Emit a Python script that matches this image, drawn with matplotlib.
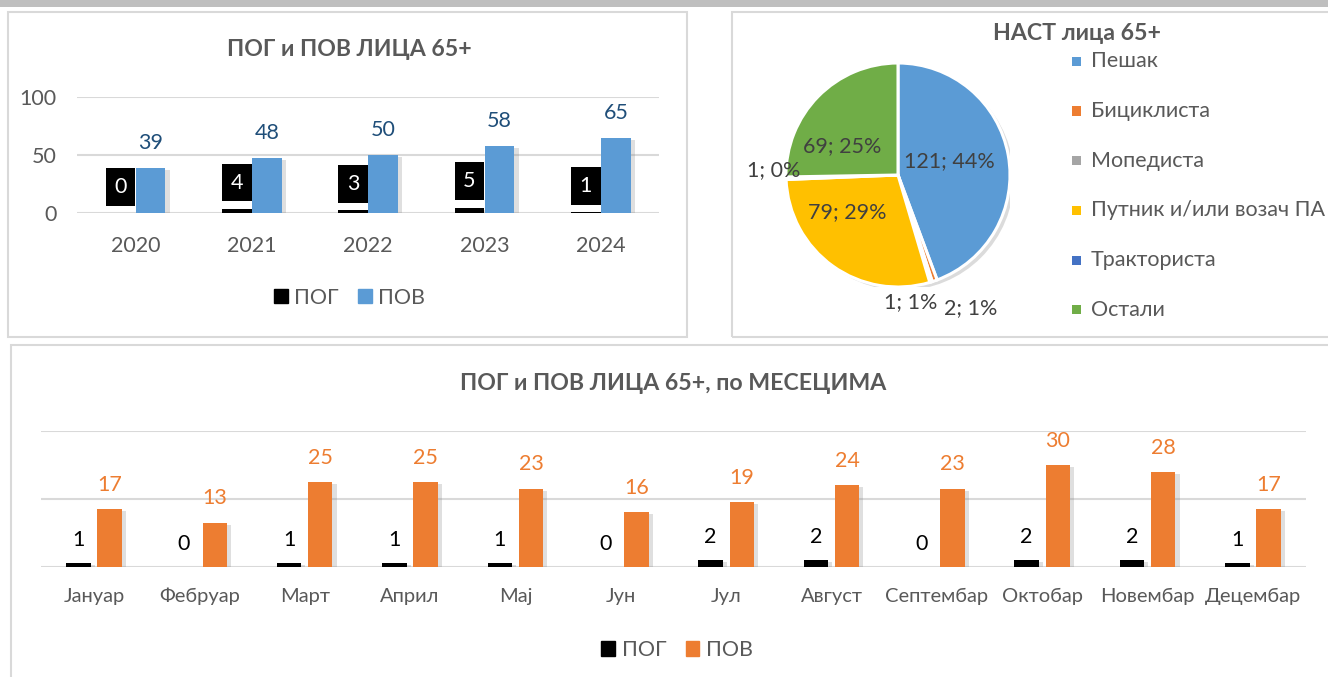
import numpy as np
import matplotlib
matplotlib.use("Agg")
import matplotlib.pyplot as plt
from matplotlib.patches import Rectangle, Patch, Circle
import matplotlib.patheffects as pe

plt.rcParams['font.family'] = ['Lato', 'Open Sans', 'DejaVu Sans']

# ---------------- data ----------------
years = ['2020', '2021', '2022', '2023', '2024']
pog_years = [0, 4, 3, 5, 1]
pov_years = [39, 48, 50, 58, 65]

pie_title = 'НАСТ лица 65+'
pie_labels = ['Пешак', 'Бициклиста', 'Мопедиста', 'Путник и/или возач ПА', 'Тракториста', 'Остали']
pie_values = [121, 2, 1, 79, 1, 69]
pie_pct = [44, 1, 1, 29, 0, 25]

months = ['Јануар', 'Фебруар', 'Март', 'Април', 'Мај', 'Јун', 'Јул', 'Август',
          'Септембар', 'Октобар', 'Новембар', 'Децембар']
pog_months = [1, 0, 1, 1, 1, 0, 2, 2, 0, 2, 2, 1]
pov_months = [17, 13, 25, 25, 23, 16, 19, 24, 23, 30, 28, 17]

# ---------------- style ----------------
W, H = 1328, 677
GRAY_TXT = '#595959'
GRID = '#d9d9d9'
BLUE = '#5B9BD5'
ORANGE = '#ED7D31'
pie_colors = ['#5B9BD5', '#ED7D31', '#A5A5A5', '#FFC000', '#4472C4', '#70AD47']

fig = plt.figure(figsize=(W / 100, H / 100), dpi=100)
fig.patch.set_facecolor('white')


def px_axes(l, t, r, b):
    return fig.add_axes([l / W, 1 - b / H, (r - l) / W, (b - t) / H])


def fx(x):
    return x / W


def fy(y):
    return 1 - y / H


# background frames
fig.add_artist(Rectangle((0, fy(7)), 1, 7 / H, transform=fig.transFigure,
                         facecolor='#bfbfbf', edgecolor='none'))
for (l, t, r, b) in [(7.5, 12, 687, 337), (732, 12, 1340, 337), (11, 345, 1340, 690)]:
    fig.add_artist(Rectangle((fx(l), fy(b)), (r - l) / W, (b - t) / H,
                             transform=fig.transFigure, facecolor='none',
                             edgecolor=GRID, lw=1.5))

shadow = [pe.SimplePatchShadow(offset=(3, -1.5), shadow_rgbFace='#8c8c8c', alpha=0.28), pe.Normal()]

# ---------------- top-left: yearly bars ----------------
ax1 = px_axes(77.3, 97.3, 659, 213.3)
x = np.arange(len(years))
bw = 0.255
off = 0.13
ax1.bar(x - off, pog_years, bw, color='black', zorder=3, path_effects=shadow)
ax1.bar(x + off, pov_years, bw, color=BLUE, zorder=3, path_effects=shadow)
# black label boxes for ПОГ
ax1.bar(x - off, [32.5] * len(years), bw, bottom=np.array(pog_years) + 6.3,
        color='black', zorder=4)
for xi, v in zip(x, pog_years):
    ax1.text(xi - off, v + 22.5, str(v), ha='center', va='center', color='white',
             fontsize=15.5, zorder=5)
for xi, v in zip(x, pov_years):
    ax1.annotate(str(v), (xi + off, v), xytext=(0, 25), textcoords='offset pixels',
                 ha='center', va='center', color='#1F4E79', fontsize=15.5)
ax1.set_xlim(-0.5, len(years) - 0.5)
ax1.set_ylim(0, 100)
ax1.set_yticks([0, 50, 100])
ax1.set_xticks(x)
ax1.set_xticklabels(years)
ax1.grid(axis='y', color=GRID, lw=1.5, zorder=0)
ax1.set_axisbelow(True)
for s in ax1.spines.values():
    s.set_visible(False)
ax1.tick_params(axis='both', length=0, labelsize=15.5, labelcolor=GRAY_TXT)
ax1.tick_params(axis='x', pad=16)
ax1.tick_params(axis='y', pad=15)
fig.text(fx(349), fy(50), 'ПОГ и ПОВ ЛИЦА 65+', ha='center', va='center',
         fontsize=16.6, fontweight='bold', color=GRAY_TXT)
fig.legend(handles=[Patch(color='black'), Patch(color=BLUE)], labels=['ПОГ', 'ПОВ'],
           loc='center', bbox_to_anchor=(fx(349.5), fy(297.7)), ncol=2, frameon=False,
           fontsize=15.5, handlelength=0.65, handleheight=0.65, columnspacing=0.9,
           handletextpad=0.3, labelcolor=GRAY_TXT)

# ---------------- top-right: pie ----------------
cx, cy, rr = 898, 175, 112
ax2 = px_axes(cx - rr, cy - rr, cx + rr, cy + rr)
ax2.add_patch(Circle((0.035, -0.03), 1.0, facecolor='#9a9a9a', alpha=0.35,
                     edgecolor='none', zorder=0))
wedges, _ = ax2.pie(pie_values, colors=pie_colors, startangle=90, counterclock=False,
                    wedgeprops=dict(edgecolor='white', linewidth=2.2), radius=1.0)
label_r = [0.48, 1.26, 1.19, 0.56, 1.11, 0.56]
label_dang = [5, 0, 0, -18, -4, 17]
label_ha = ['center', 'left', 'right', 'center', 'center', 'center']
for w, v, p, r, da, ha in zip(wedges, pie_values, pie_pct, label_r, label_dang, label_ha):
    ang = np.deg2rad((w.theta1 + w.theta2) / 2 + da)
    ax2.text(r * np.cos(ang), r * np.sin(ang), f'{v}; {p}%', ha=ha, va='center',
             fontsize=15.5, color='#404040', zorder=5, clip_on=False)
ax2.set_xlim(-1, 1)
ax2.set_ylim(-1, 1)
ax2.set_aspect('equal')
ax2.axis('off')
fig.text(fx(1077), fy(33), pie_title, ha='center', va='center', fontsize=16.7,
         fontweight='bold', color=GRAY_TXT)
for i, (lab, col) in enumerate(zip(pie_labels, pie_colors)):
    yy = 61.3 + i * 49.7
    fig.add_artist(Rectangle((fx(1072.3), fy(yy + 4.5)), 9 / W, 9 / H,
                             transform=fig.transFigure, facecolor=col, edgecolor='none'))
    fig.text(fx(1090.7), fy(yy), lab, ha='left', va='center', fontsize=15.5, color=GRAY_TXT)

# ---------------- bottom: monthly bars ----------------
ax3 = px_axes(41.2, 430.7, 1305.7, 566.7)
xm = np.arange(len(months))
bw3 = 0.232
off3 = 0.148
ax3.bar(xm - off3, pog_months, bw3, color='black', zorder=3, path_effects=shadow)
ax3.bar(xm + off3, pov_months, bw3, color=ORANGE, zorder=3, path_effects=shadow)
for xi, v in zip(xm, pog_months):
    ax3.annotate(str(v), (xi - off3, v), xytext=(0, 23), textcoords='offset pixels',
                 ha='center', va='center', color='black', fontsize=15.5)
for xi, v in zip(xm, pov_months):
    ax3.annotate(str(v), (xi + off3, v), xytext=(0, 24), textcoords='offset pixels',
                 ha='center', va='center', color=ORANGE, fontsize=15.5)
ax3.set_xlim(-0.5, len(months) - 0.5)
ax3.set_ylim(0, 40)
ax3.set_yticks([0, 20, 40])
ax3.set_yticklabels([])
ax3.set_xticks(xm)
ax3.set_xticklabels(months)
ax3.grid(axis='y', color=GRID, lw=1.5, zorder=0)
ax3.set_axisbelow(True)
for s in ax3.spines.values():
    s.set_visible(False)
ax3.tick_params(axis='both', length=0, labelsize=14.5, labelcolor=GRAY_TXT)
ax3.tick_params(axis='x', pad=15)
fig.text(fx(673), fy(383.5), 'ПОГ и ПОВ ЛИЦА 65+, по МЕСЕЦИМА', ha='center', va='center',
         fontsize=16.7, fontweight='bold', color=GRAY_TXT)
fig.legend(handles=[Patch(color='black'), Patch(color=ORANGE)], labels=['ПОГ', 'ПОВ'],
           loc='center', bbox_to_anchor=(fx(677), fy(650)), ncol=2, frameon=False,
           fontsize=15.5, handlelength=0.65, handleheight=0.65, columnspacing=0.9,
           handletextpad=0.3, labelcolor=GRAY_TXT)

fig.savefig('out.png', dpi=100, facecolor='white')
